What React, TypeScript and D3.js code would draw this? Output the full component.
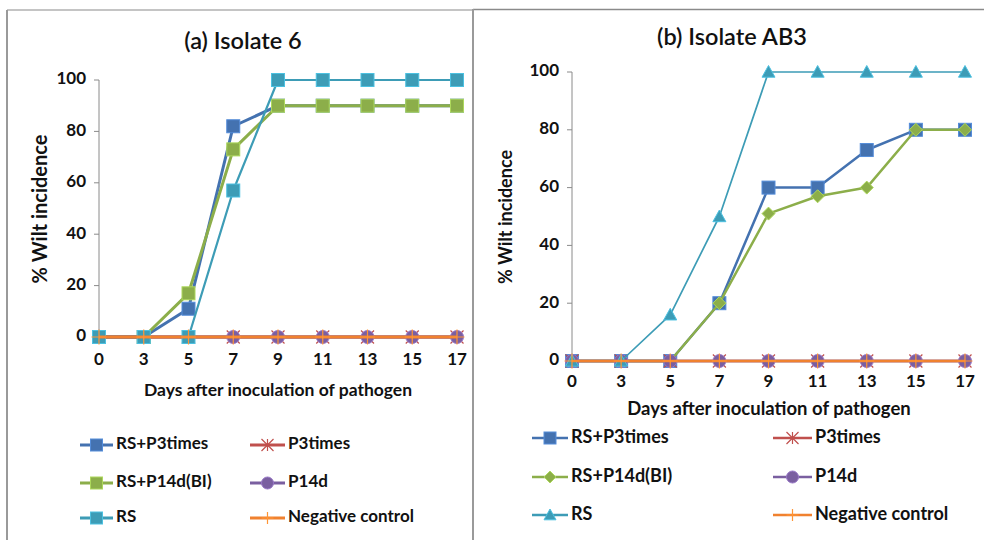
import React from "react";
import * as d3 from "d3";

const days = ["0", "3", "5", "7", "9", "11", "13", "15", "17"];
const yTicks = [0, 20, 40, 60, 80, 100];
const seriesNames = ["RS+P3times", "P3times", "RS+P14d(BI)", "P14d", "RS", "Negative control"];

// (a) Isolate 6
const iso6RsP3 = [0, 0, 11, 82, 90, 90, 90, 90, 90];
const iso6P3 = [0, 0, 0, 0, 0, 0, 0, 0, 0];
const iso6RsP14 = [0, 0, 17, 73, 90, 90, 90, 90, 90];
const iso6P14 = [0, 0, 0, 0, 0, 0, 0, 0, 0];
const iso6Rs = [0, 0, 0, 57, 100, 100, 100, 100, 100];
const iso6Neg = [0, 0, 0, 0, 0, 0, 0, 0, 0];

// (b) Isolate AB3
const ab3RsP3 = [0, 0, 0, 20, 60, 60, 73, 80, 80];
const ab3P3 = [0, 0, 0, 0, 0, 0, 0, 0, 0];
const ab3RsP14 = [0, 0, 0, 20, 51, 57, 60, 80, 80];
const ab3P14 = [0, 0, 0, 0, 0, 0, 0, 0, 0];
const ab3Rs = [0, 0, 16, 50, 100, 100, 100, 100, 100];
const ab3Neg = [0, 0, 0, 0, 0, 0, 0, 0, 0];

const colors = ["#4472b0", "#c0504d", "#8cae4a", "#7a5fa0", "#3d9cb6", "#f0812f"];
const FONT = "Lato, 'Open Sans', sans-serif";

type Shape = "square" | "diamond" | "triangle" | "star" | "circle" | "plus";

const Marker = ({ shape, x, y, color, size }: { shape: Shape; x: number; y: number; color: string; size: number }) => {
  const h = size / 2;
  const edge = d3.color(color)!.brighter(0.6).toString();
  if (shape === "square")
    return <rect x={x - h} y={y - h} width={size} height={size} fill={color} stroke={edge} strokeWidth={1} />;
  if (shape === "diamond")
    return <path d={`M${x},${y - h}L${x + h},${y}L${x},${y + h}L${x - h},${y}Z`} fill={color} stroke={edge} strokeWidth={1} />;
  if (shape === "triangle")
    return <path d={`M${x},${y - h}L${x + h},${y + h * 0.8}L${x - h},${y + h * 0.8}Z`} fill={color} stroke={edge} strokeWidth={1} />;
  if (shape === "circle")
    return <circle cx={x} cy={y} r={h} fill={color} stroke={edge} strokeWidth={1} />;
  if (shape === "star")
    return (
      <path d={`M${x - h},${y - h}L${x + h},${y + h}M${x + h},${y - h}L${x - h},${y + h}M${x},${y - h}L${x},${y + h}`} stroke={color} strokeWidth={1.2} fill="none" />
    );
  return <path d={`M${x - h},${y}L${x + h},${y}M${x},${y - h}L${x},${y + h}`} stroke={d3.color(color)!.brighter(0.4).toString()} strokeWidth={1.2} fill="none" />;
};

type PanelProps = {
  title: string;
  values: number[][];
  shapes: Shape[];
  x0: number; x1: number; yTop: number; yBottom: number;
  titleX: number; titleY: number; titleSize: number;
  tickSize: number; xTickY: number; axisTitleX: number; axisTitleY: number; axisTitleSize: number;
  yTitleX: number; yTitleY: number; yTitleSize: number;
  legendRows: number[]; legendCols: number[][]; legendSize: number;
  lineW: number; markSize: number;
};

const Panel = (p: PanelProps) => {
  const x = d3.scalePoint<string>().domain(days).range([p.x0, p.x1]);
  const y = d3.scaleLinear().domain([0, 100]).range([p.yBottom, p.yTop]);
  const line = d3.line<number>().x((_, i) => x(days[i])!).y((v) => y(v));
  return (
    <g fontFamily={FONT}>
      <text x={p.titleX} y={p.titleY} textAnchor="middle" dominantBaseline="middle" fontSize={p.titleSize} fontWeight={600} fill="#111">
        {p.title}
      </text>
      <line x1={p.x0} x2={p.x0} y1={p.yTop} y2={p.yBottom} stroke="#8a8a8a" strokeWidth={1} />
      {yTicks.map((t) => (
        <g key={t}>
          <line x1={p.x0 - 5} x2={p.x0} y1={y(t)} y2={y(t)} stroke="#8a8a8a" />
          <text x={p.x0 - 13} y={y(t)} textAnchor="end" dominantBaseline="middle" fontSize={p.tickSize} fontWeight={700} fill="#111">
            {t}
          </text>
        </g>
      ))}
      {days.map((d) => (
        <text key={d} x={x(d)} y={p.xTickY} textAnchor="middle" dominantBaseline="middle" fontSize={p.tickSize} fontWeight={700} fill="#111">
          {d}
        </text>
      ))}
      <text x={p.axisTitleX} y={p.axisTitleY} textAnchor="middle" dominantBaseline="middle" fontSize={p.axisTitleSize} fontWeight={700} fill="#111">
        Days after inoculation of pathogen
      </text>
      <text transform={`translate(${p.yTitleX},${p.yTitleY}) rotate(-90)`} textAnchor="middle" dominantBaseline="middle" fontSize={p.yTitleSize} fontWeight={700} fill="#111">
        % Wilt incidence
      </text>
      {p.values.map((vals, si) => (
        <g key={si}>
          <path d={line(vals)!} fill="none" stroke={colors[si]} strokeWidth={si === 4 ? p.lineW - 0.8 : p.lineW} strokeLinejoin="round" />
          {vals.map((v, i) => (
            <Marker key={i} shape={p.shapes[si]} x={x(days[i])!} y={y(v)} color={colors[si]} size={si === 5 ? p.markSize + 2 : p.markSize} />
          ))}
        </g>
      ))}
      {seriesNames.map((name, si) => {
        const row = Math.floor(si / 2);
        const col = si % 2;
        const [lx0, lx1] = p.legendCols[col];
        const ly = p.legendRows[row];
        return (
          <g key={name}>
            <line x1={lx0} x2={lx1} y1={ly} y2={ly} stroke={colors[si]} strokeWidth={p.lineW} />
            <Marker shape={p.shapes[si]} x={(lx0 + lx1) / 2} y={ly} color={colors[si]} size={p.markSize - 1} />
            <text x={lx1 + 3} y={ly} dominantBaseline="middle" fontSize={p.legendSize} fontWeight={700} fill="#111">
              {name}
            </text>
          </g>
        );
      })}
    </g>
  );
};

export default function App() {
  return (
    <svg width={984} height={540} style={{ position: "absolute", left: 0, top: 0, background: "#fff" }}>
      <rect x={0} y={0} width={984} height={540} fill="#fff" />
      <line x1={7} x2={473} y1={10} y2={10} stroke="#b0b0b0" strokeWidth={1.5} />
      <line x1={473} x2={984} y1={9.5} y2={9.5} stroke="#8a8a8a" strokeWidth={1.5} />
      <line x1={7} x2={7} y1={10} y2={540} stroke="#9a9a9a" strokeWidth={2} />
      <line x1={473} x2={473} y1={9} y2={540} stroke="#9a9a9a" strokeWidth={2} />
      <Panel
        title="(a) Isolate 6"
        values={[iso6RsP3, iso6P3, iso6RsP14, iso6P14, iso6Rs, iso6Neg]}
        shapes={["square", "star", "square", "circle", "square", "plus"]}
        x0={99} x1={457} yTop={80} yBottom={337}
        titleX={243} titleY={43} titleSize={23.5}
        tickSize={17} xTickY={361} axisTitleX={278} axisTitleY={392} axisTitleSize={17.5}
        yTitleX={42} yTitleY={209} yTitleSize={20}
        legendRows={[445, 483, 518]} legendCols={[[80, 113], [250, 285]]} legendSize={17}
        lineW={3} markSize={13}
      />
      <Panel
        title="(b) Isolate AB3"
        values={[ab3RsP3, ab3P3, ab3RsP14, ab3P14, ab3Rs, ab3Neg]}
        shapes={["square", "star", "diamond", "circle", "triangle", "plus"]}
        x0={572} x1={965} yTop={72} yBottom={361}
        titleX={732} titleY={39} titleSize={23.5}
        tickSize={17} xTickY={383} axisTitleX={769} axisTitleY={410} axisTitleSize={18.5}
        yTitleX={507} yTitleY={217} yTitleSize={18}
        legendRows={[438, 477, 515]} legendCols={[[532, 568], [773, 812]]} legendSize={18}
        lineW={2.5} markSize={13}
      />
    </svg>
  );
}
